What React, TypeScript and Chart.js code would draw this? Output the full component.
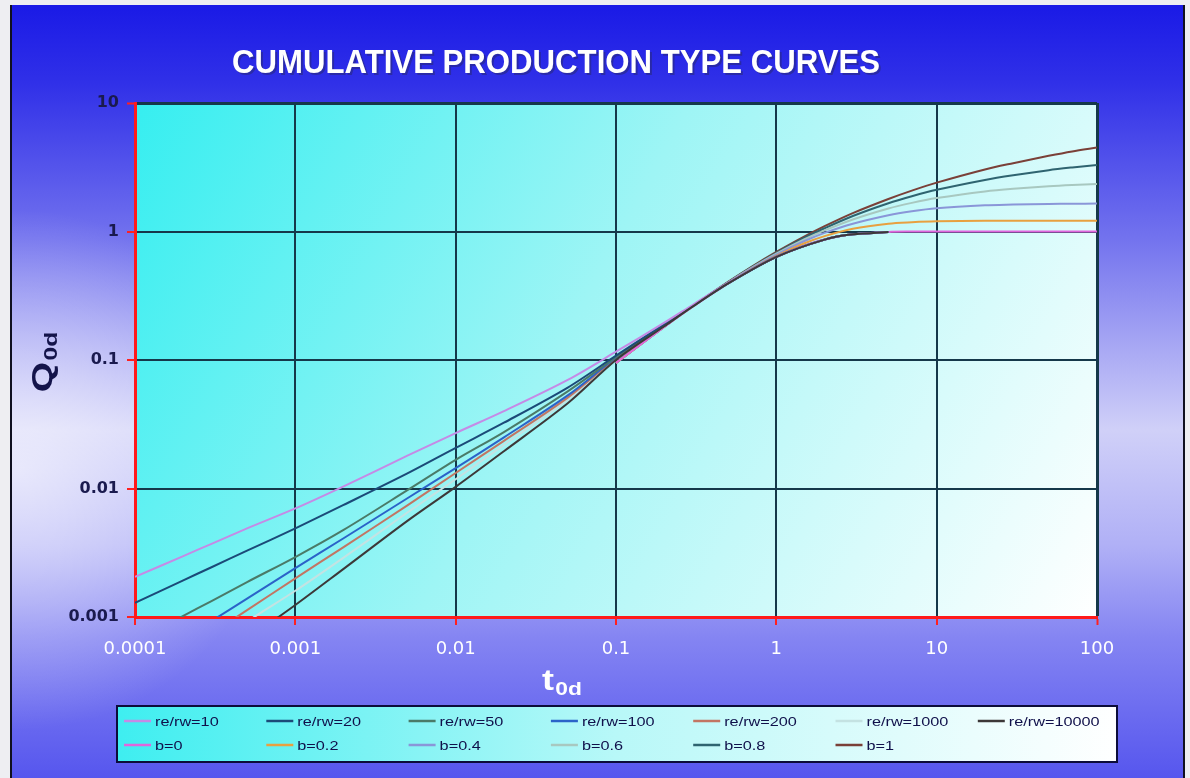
import React, { useEffect, useRef } from "react";
import { Chart, registerables } from "chart.js";
Chart.register(...registerables);

// ---- data ----
const tEarly = [0.0001, 0.0002, 0.0003, 0.0005, 0.001, 0.002, 0.005, 0.01, 0.02, 0.05, 0.1, 0.2, 0.3, 0.5, 1, 2, 3, 5];
const reRw10 = [0.00205, 0.00298, 0.00371, 0.00489, 0.007, 0.0104, 0.018, 0.027, 0.04, 0.07, 0.116, 0.195, 0.268, 0.398, 0.637, 0.866, 0.95, 0.99];
const reRw20 = [0.00129, 0.00193, 0.00244, 0.00328, 0.0049, 0.00745, 0.0131, 0.0207, 0.0325, 0.061, 0.108, 0.19, 0.264, 0.396, 0.636, 0.866, 0.95, 0.99];
const reRw50 = [0.00064, 0.00102, 0.00133, 0.00187, 0.00293, 0.00476, 0.0097, 0.0167, 0.0275, 0.057, 0.105, 0.186, 0.262, 0.395, 0.635, 0.865, 0.95, 0.99];
const reRw100 = [0.00039, 0.00067, 0.00093, 0.00139, 0.0024, 0.0041, 0.0084, 0.0144, 0.025, 0.053, 0.104, 0.185, 0.261, 0.394, 0.634, 0.865, 0.95, 0.99];
const reRw200 = [0.000303, 0.000534, 0.000745, 0.00113, 0.002, 0.0035, 0.0074, 0.0132, 0.0235, 0.051, 0.103, 0.184, 0.261, 0.394, 0.634, 0.865, 0.95, 0.99];
const reRw1000 = [0.000227, 0.000414, 0.00059, 0.00092, 0.0016, 0.0029, 0.0065, 0.0118, 0.0218, 0.049, 0.102, 0.184, 0.261, 0.394, 0.634, 0.865, 0.95, 0.99];
const reRw10000 = [0.000156, 0.00029, 0.00042, 0.00067, 0.00124, 0.00237, 0.0056, 0.0103, 0.0195, 0.046, 0.1, 0.183, 0.26, 0.394, 0.634, 0.865, 0.95, 0.99];

const tLate = [0.1, 0.2, 0.3, 0.5, 0.7, 1, 1.5, 2, 3, 5, 7, 10, 20, 30, 50, 70, 100];
const b0 = [0.095, 0.181, 0.259, 0.393, 0.503, 0.632, 0.777, 0.865, 0.95, 0.993, 0.999, 1, 1, 1, 1, 1, 1];
const b02 = [0.095, 0.182, 0.26, 0.396, 0.51, 0.647, 0.81, 0.92, 1.05, 1.15, 1.18, 1.2, 1.21, 1.21, 1.21, 1.21, 1.21];
const b04 = [0.095, 0.182, 0.261, 0.399, 0.516, 0.661, 0.843, 0.976, 1.15, 1.34, 1.44, 1.52, 1.6, 1.62, 1.64, 1.645, 1.65];
const b06 = [0.095, 0.182, 0.261, 0.401, 0.521, 0.672, 0.87, 1.02, 1.24, 1.51, 1.67, 1.82, 2.05, 2.15, 2.25, 2.3, 2.34];
const b08 = [0.095, 0.182, 0.262, 0.403, 0.526, 0.683, 0.894, 1.06, 1.32, 1.66, 1.88, 2.11, 2.52, 2.74, 3.0, 3.15, 3.3];
const b1 = [0.095, 0.182, 0.262, 0.405, 0.531, 0.693, 0.916, 1.1, 1.39, 1.79, 2.08, 2.4, 3.04, 3.4, 3.88, 4.2, 4.5];

const seriesNames = ["re/rw=10", "re/rw=20", "re/rw=50", "re/rw=100", "re/rw=200", "re/rw=1000", "re/rw=10000", "b=0", "b=0.2", "b=0.4", "b=0.6", "b=0.8", "b=1"];
const seriesColors = ["#c58ae6", "#1b4a78", "#4a7a68", "#2b63c8", "#c27563", "#c4e2e2", "#3c3838", "#e066dd", "#e8a040", "#8a96d8", "#a8c8c0", "#2f6470", "#7a4038"];

const xTicks = [0.0001, 0.001, 0.01, 0.1, 1, 10, 100];
const xTickLabels = ["0.0001", "0.001", "0.01", "0.1", "1", "10", "100"];
const yTicks = [0.001, 0.01, 0.1, 1, 10];
const yTickLabels = ["0.001", "0.01", "0.1", "1", "10"];

const chartTitle = "CUMULATIVE PRODUCTION TYPE CURVES";

function drawSub(ctx: CanvasRenderingContext2D, main: string, sub: string, mainFont: string, subFont: string, sx: number, subDrop: number) {
  ctx.font = mainFont;
  const wm = ctx.measureText(main).width;
  ctx.font = subFont;
  const ws = ctx.measureText(sub).width;
  const total = wm + ws + 1;
  ctx.scale(sx, 1);
  ctx.textAlign = "left";
  ctx.textBaseline = "alphabetic";
  ctx.font = mainFont;
  ctx.fillText(main, -total / 2, 0);
  ctx.font = subFont;
  ctx.fillText(sub, -total / 2 + wm + 1, subDrop);
}

const decor = {
  id: "decor",
  beforeDraw(chart: any) {
    const { ctx, chartArea: a, width, height } = chart;
    ctx.save();
    ctx.fillStyle = "#eeeef2";
    ctx.fillRect(0, 0, width, height);
    const g = ctx.createLinearGradient(0, 5, 0, height);
    g.addColorStop(0, "#1a1ae6");
    g.addColorStop(0.1, "#3030e8");
    g.addColorStop(0.3, "#7272ee");
    g.addColorStop(0.55, "#d0d0f8");
    g.addColorStop(0.7, "#b0b0f6");
    g.addColorStop(0.82, "#8484f2");
    g.addColorStop(1, "#5656ee");
    ctx.fillStyle = g;
    ctx.fillRect(10, 5, 1174, height - 5);
    const r = ctx.createRadialGradient(20, 470, 0, 20, 470, 260);
    r.addColorStop(0, "rgba(255,255,255,0.6)");
    r.addColorStop(1, "rgba(255,255,255,0)");
    ctx.fillStyle = r;
    ctx.fillRect(10, 5, 1174, height - 5);
    ctx.strokeStyle = "#101020";
    ctx.lineWidth = 2;
    ctx.beginPath();
    ctx.moveTo(11, 5);
    ctx.lineTo(11, height);
    ctx.moveTo(1184, 5);
    ctx.lineTo(1184, height);
    ctx.stroke();
    const p = ctx.createLinearGradient(a.left, a.top, a.right, a.bottom);
    p.addColorStop(0, "#36eef0");
    p.addColorStop(0.45, "#9ef5f5");
    p.addColorStop(1, "#ffffff");
    ctx.fillStyle = p;
    ctx.fillRect(a.left, a.top, a.right - a.left, a.bottom - a.top);
    ctx.restore();
  },
  afterDraw(chart: any) {
    const { ctx } = chart;
    ctx.save();
    // title
    ctx.fillStyle = "rgba(40,40,90,0.45)";
    ctx.font = "bold 34px 'Liberation Sans', Arial, sans-serif";
    ctx.textAlign = "center";
    ctx.textBaseline = "alphabetic";
    ctx.fillText(chartTitle, 558, 75, 648);
    ctx.fillStyle = "#ffffff";
    ctx.fillText(chartTitle, 556, 73, 648);
    ctx.restore();

    // y axis title
    ctx.save();
    ctx.fillStyle = "#14144a";
    ctx.translate(52, 362);
    ctx.rotate(-Math.PI / 2);
    drawSub(ctx, "Q", "0d", "bold 30px 'Liberation Sans', Arial, sans-serif", "bold 19px 'Liberation Sans', Arial, sans-serif", 1.3, 5);
    ctx.restore();

    // x axis title
    ctx.save();
    ctx.fillStyle = "#ffffff";
    ctx.translate(562, 690);
    drawSub(ctx, "t", "0d", "bold 30px 'Liberation Sans', Arial, sans-serif", "bold 19px 'Liberation Sans', Arial, sans-serif", 1.2, 5);
    ctx.restore();

    // legend
    ctx.save();
    const lx = 117, ly = 706, lw = 1000, lh = 56;
    const lg = ctx.createLinearGradient(lx, 0, lx + lw, 0);
    lg.addColorStop(0, "#3eeef0");
    lg.addColorStop(0.5, "#b8f8f8");
    lg.addColorStop(1, "#ffffff");
    ctx.fillStyle = lg;
    ctx.fillRect(lx, ly, lw, lh);
    ctx.strokeStyle = "#0c0c3a";
    ctx.lineWidth = 2;
    ctx.strokeRect(lx, ly, lw, lh);
    chart.data.datasets.forEach((ds: any, i: number) => {
      const row = i < 7 ? 0 : 1;
      const col = i < 7 ? i : i - 7;
      const x0 = 124 + col * 142.3;
      const y0 = row === 0 ? 721 : 745;
      ctx.strokeStyle = ds.borderColor;
      ctx.lineWidth = 2.5;
      ctx.beginPath();
      ctx.moveTo(x0, y0);
      ctx.lineTo(x0 + 27, y0);
      ctx.stroke();
      ctx.save();
      ctx.translate(x0 + 31, y0);
      ctx.scale(1.25, 1);
      ctx.fillStyle = "#10104a";
      ctx.font = "13px 'Liberation Sans', Arial, sans-serif";
      ctx.textAlign = "left";
      ctx.textBaseline = "middle";
      ctx.fillText(ds.label, 0, 1);
      ctx.restore();
    });
    ctx.restore();
  },
};

const earlySeries = [reRw10, reRw20, reRw50, reRw100, reRw200, reRw1000, reRw10000];
const lateSeries = [b0, b02, b04, b06, b08, b1];

export default function App() {
  const ref = useRef<HTMLCanvasElement>(null);
  useEffect(() => {
    document.body.style.margin = "0";
    const datasets: any[] = [];
    earlySeries.forEach((vals, i) => {
      datasets.push({
        label: seriesNames[i],
        data: tEarly.map((t, k) => ({ x: t, y: vals[k] })),
        borderColor: seriesColors[i],
        backgroundColor: seriesColors[i],
        borderWidth: 2,
        pointRadius: 0,
        tension: 0.3,
        fill: false,
        order: i === 6 ? -1 : i,
      });
    });
    lateSeries.forEach((vals, j) => {
      const i = j + 7;
      datasets.push({
        label: seriesNames[i],
        data: tLate.map((t, k) => ({ x: t, y: vals[k] })),
        borderColor: seriesColors[i],
        backgroundColor: seriesColors[i],
        borderWidth: 2,
        pointRadius: 0,
        tension: 0.3,
        fill: false,
        order: i,
      });
    });

    const gridColor = (ctx: any) => (ctx.index === 0 ? "rgba(0,0,0,0)" : "#15384a");
    const gridWidth = (ctx: any, n: number) => (ctx.index === n - 1 ? 3 : 2);

    const chart = new Chart(ref.current!, {
      type: "line",
      data: { datasets },
      options: {
        animation: false,
        responsive: false,
        devicePixelRatio: 1,
        events: [],
        layout: { padding: { left: 55, right: 93, top: 103, bottom: 111 } },
        plugins: { legend: { display: false }, title: { display: false }, tooltip: { enabled: false } },
        scales: {
          x: {
            type: "logarithmic",
            min: 0.0001,
            max: 100,
            afterBuildTicks: (s: any) => {
              s.ticks = xTicks.map((v) => ({ value: v }));
            },
            afterFit: (s: any) => {
              s.height = 50;
            },
            ticks: {
              autoSkip: false,
              maxRotation: 0,
              color: "#ffffff",
              padding: 14,
              font: { family: "'DejaVu Sans'", size: 18 },
              callback: (_v: any, i: number) => xTickLabels[i],
            },
            grid: {
              color: gridColor,
              lineWidth: (c: any) => gridWidth(c, xTicks.length),
              tickColor: "#ff2020",
              tickLength: 8,
              tickWidth: 2,
            },
            border: { color: "#ff1a1a", width: 3 },
          },
          y: {
            type: "logarithmic",
            min: 0.001,
            max: 10,
            afterBuildTicks: (s: any) => {
              s.ticks = yTicks.map((v) => ({ value: v }));
            },
            afterFit: (s: any) => {
              s.width = 80;
            },
            ticks: {
              autoSkip: false,
              color: "#1a1a4e",
              padding: 8,
              font: { family: "'DejaVu Sans'", size: 16, weight: "bold" },
              callback: (_v: any, i: number) => yTickLabels[i],
            },
            grid: {
              color: gridColor,
              lineWidth: (c: any) => gridWidth(c, yTicks.length),
              tickColor: "#ff2020",
              tickLength: 8,
              tickWidth: 2,
            },
            border: { color: "#ff1a1a", width: 3 },
          },
        },
      },
      plugins: [decor],
    } as any);
    return () => chart.destroy();
  }, []);
  return (
    <div style={{ width: 1190, height: 778 }}>
      <canvas ref={ref} width={1190} height={778} style={{ display: "block" }} />
    </div>
  );
}
